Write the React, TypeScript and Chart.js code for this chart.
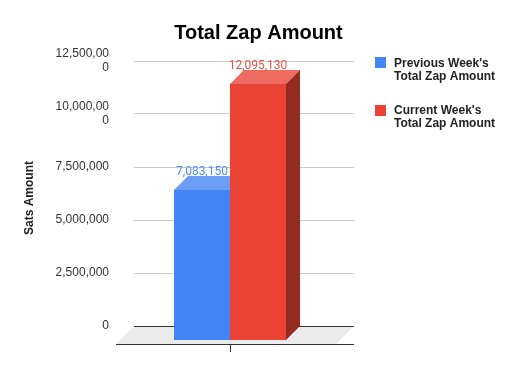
import React, { useEffect, useRef } from "react";
import { Chart, registerables } from "chart.js";

Chart.register(...registerables);

// ---- data ----
const categories = ["Total Zap Amount"];
const seriesLabels = ["Previous Week's Total Zap Amount", "Current Week's Total Zap Amount"];
const previousWeek = [7083150];
const currentWeek = [12095130];
const yTicks = [0, 2500000, 5000000, 7500000, 10000000, 12500000];
const chartTitle = "Total Zap Amount";
const yAxisTitle = "Sats Amount";

// ---- styles ----
const FRONT = ["#4285F4", "#EA4335"];
const TOP = ["#6C9EF6", "#EE6B60"];
const SIDE = ["#2C5DB0", "#952A22"];
const LABEL = ["#4E8DF5", "#EC5346"];
const DEPTH = 14;
const FLOOR_DEPTH = 18;
const SANS = "'Liberation Sans', Arial, sans-serif";

function wrapText(ctx: CanvasRenderingContext2D, text: string, maxWidth: number): string[] {
  const words = text.split(" ");
  const lines: string[] = [];
  let cur = "";
  for (const w of words) {
    const test = cur ? cur + " " + w : w;
    if (cur && ctx.measureText(test).width > maxWidth) {
      lines.push(cur);
      cur = w;
    } else cur = test;
  }
  if (cur) lines.push(cur);
  return lines;
}

const threeDPlugin = {
  id: "threeD",
  beforeDraw(chart: any) {
    const { ctx, chartArea: a } = chart;
    ctx.save();
    ctx.fillStyle = "#ebebeb";
    ctx.beginPath();
    ctx.moveTo(a.left, a.bottom);
    ctx.lineTo(a.right, a.bottom);
    ctx.lineTo(a.right - FLOOR_DEPTH, a.bottom + FLOOR_DEPTH);
    ctx.lineTo(a.left - FLOOR_DEPTH, a.bottom + FLOOR_DEPTH);
    ctx.closePath();
    ctx.fill();
    ctx.restore();
  },
  afterDatasetsDraw(chart: any) {
    const { ctx } = chart;
    const d = DEPTH;
    ctx.save();
    chart.data.datasets.forEach((ds: any, i: number) => {
      const meta = chart.getDatasetMeta(i);
      meta.data.forEach((bar: any) => {
        const { x, y, base, width } = bar.getProps(["x", "y", "base", "width"], true);
        const l = Math.round(x - width / 2);
        const r = Math.round(x + width / 2);
        const t = Math.round(y);
        const b = Math.round(base);
        // front face
        ctx.fillStyle = FRONT[i];
        ctx.fillRect(l - d, t + d, r - l, b - t);
        // top face
        ctx.fillStyle = TOP[i];
        ctx.beginPath();
        ctx.moveTo(l - d, t + d);
        ctx.lineTo(l, t);
        ctx.lineTo(r, t);
        ctx.lineTo(r - d, t + d);
        ctx.closePath();
        ctx.fill();
        // side face
        ctx.fillStyle = SIDE[i];
        ctx.beginPath();
        ctx.moveTo(r - d, t + d);
        ctx.lineTo(r, t);
        ctx.lineTo(r, b);
        ctx.lineTo(r - d, b + d);
        ctx.closePath();
        ctx.fill();
      });
    });
    // data labels
    ctx.font = "12px Roboto, 'Liberation Sans', Arial, sans-serif";
    ctx.textAlign = "center";
    ctx.textBaseline = "alphabetic";
    chart.data.datasets.forEach((ds: any, i: number) => {
      const meta = chart.getDatasetMeta(i);
      meta.data.forEach((bar: any, j: number) => {
        const { x, y } = bar.getProps(["x", "y"], true);
        ctx.fillStyle = LABEL[i];
        ctx.fillText(Number(ds.data[j]).toLocaleString("en-US"), x - d, y - 1);
      });
    });
    ctx.restore();
  },
  afterDraw(chart: any) {
    const { ctx, chartArea: a, width } = chart;
    const xs = chart.scales.x;
    ctx.save();
    // chart title (centred on the full canvas width)
    ctx.font = `bold 20px ${SANS}`;
    ctx.fillStyle = "#000000";
    ctx.textAlign = "center";
    ctx.textBaseline = "alphabetic";
    ctx.fillText(chartTitle, width / 2, 39);
    // front axis line
    const yLine = a.bottom + FLOOR_DEPTH + 0.5;
    ctx.strokeStyle = "#333333";
    ctx.lineWidth = 1;
    ctx.beginPath();
    ctx.moveTo(a.left - FLOOR_DEPTH, yLine);
    ctx.lineTo(a.right, yLine);
    ctx.stroke();
    // category tick
    chart.data.labels.forEach((_: any, k: number) => {
      const tx = Math.round(xs.getPixelForValue(k) - DEPTH) + 0.5;
      ctx.beginPath();
      ctx.moveTo(tx, yLine - 0.5);
      ctx.lineTo(tx, yLine + 7.5);
      ctx.stroke();
    });
    // y axis title
    ctx.save();
    ctx.translate(33, (a.top + a.bottom) / 2 + 4.5);
    ctx.rotate(-Math.PI / 2);
    ctx.font = `bold 12px ${SANS}`;
    ctx.fillStyle = "#222222";
    ctx.textAlign = "center";
    ctx.textBaseline = "alphabetic";
    ctx.fillText(yAxisTitle, 0, 0);
    ctx.restore();
    // legend
    ctx.font = `bold 12px ${SANS}`;
    ctx.textAlign = "left";
    ctx.textBaseline = "alphabetic";
    chart.data.datasets.forEach((ds: any, i: number) => {
      ctx.fillStyle = FRONT[i];
      ctx.fillRect(375, 57 + 48 * i, 11, 11);
      ctx.fillStyle = "#222222";
      const lines = wrapText(ctx, ds.label, 110);
      lines.forEach((ln, k) => {
        ctx.fillText(ln, 394, 67 + 47 * i + 13 * k);
      });
    });
    ctx.restore();
  },
};

export default function App() {
  const canvasRef = useRef<HTMLCanvasElement | null>(null);

  useEffect(() => {
    document.body.style.margin = "0";
    const canvas = canvasRef.current;
    if (!canvas) return;
    const catPct = 112 / 220;
    const chart = new Chart(canvas, {
      type: "bar",
      data: {
        labels: categories,
        datasets: [
          {
            label: seriesLabels[0],
            data: previousWeek,
            backgroundColor: "rgba(0,0,0,0)",
            borderWidth: 0,
            barPercentage: 1,
            categoryPercentage: catPct,
          },
          {
            label: seriesLabels[1],
            data: currentWeek,
            backgroundColor: "rgba(0,0,0,0)",
            borderWidth: 0,
            barPercentage: 1,
            categoryPercentage: catPct,
          },
        ],
      },
      options: {
        responsive: false,
        animation: false,
        events: [],
        layout: { padding: { top: 61, left: 0, right: 163, bottom: 45 } },
        plugins: {
          legend: { display: false },
          tooltip: { enabled: false },
          title: { display: false },
        },
        scales: {
          x: { display: false },
          y: {
            min: 0,
            max: 12500000,
            afterBuildTicks: (scale: any) => {
              scale.ticks = yTicks.map((v) => ({ value: v }));
            },
            afterFit: (scale: any) => {
              scale.width = 134;
            },
            border: { display: false },
            grid: {
              drawTicks: false,
              color: (c: any) => (c.tick && c.tick.value === 0 ? "#333333" : "#cccccc"),
              lineWidth: 1,
            },
            ticks: {
              padding: 25,
              color: "#333333",
              font: { family: SANS, size: 12, lineHeight: 1.17 },
              callback: (v: any) => {
                const s = Number(v).toLocaleString("en-US");
                return s.length > 9 ? [s.slice(0, 9), s.slice(9)] : s;
              },
            },
          },
        },
      },
      plugins: [threeDPlugin],
    } as any);
    return () => chart.destroy();
  }, []);

  return (
    <div style={{ position: "fixed", left: 0, top: 0, width: 517, height: 371, background: "#ffffff" }}>
      <canvas ref={canvasRef} width={517} height={371} style={{ display: "block" }} />
    </div>
  );
}
